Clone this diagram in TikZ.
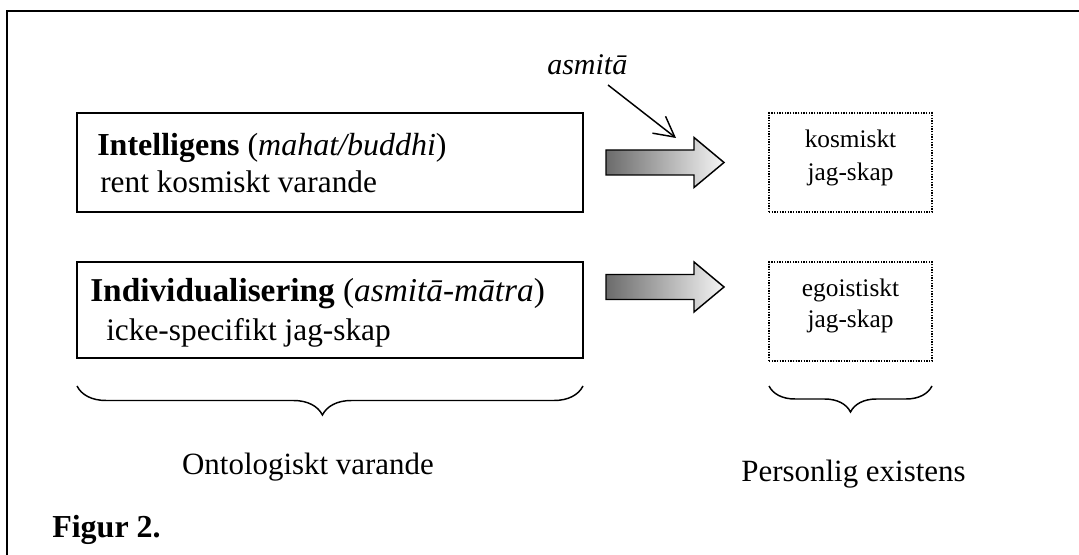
\documentclass[tikz,border=0pt]{standalone}
\usepackage{fontspec}
\setmainfont{Liberation Serif}
\usetikzlibrary{arrows.meta,decorations.pathreplacing}

\begin{document}
\begin{tikzpicture}[x=0.75pt,y=-0.75pt,
  frameline/.style={line width=1.5pt},
  solidbox/.style={draw, line width=1.4pt, inner sep=0pt, outer sep=0pt,
    minimum width=379.5pt},
  dotbox/.style={draw, line width=1pt, densely dotted, inner sep=0pt,
    outer sep=0pt, minimum width=122.25pt},
  lefttext/.style={anchor=base west, inner sep=0pt},
  bodyfont/.style={font=\fontsize{23.5}{28}\selectfont},
  smalltext/.style={anchor=base, inner sep=0pt, font=\fontsize{19}{23}\selectfont},
  captext/.style={anchor=base, inner sep=0pt, font=\fontsize{23.2}{28}\selectfont},
  blockarrow/.style={draw=black, line width=1.1pt, line join=miter,
    left color=black!58, right color=black!4},
  thinarrow/.style={line width=1.1pt, -{Straight Barb[length=15pt,width=16pt]}},
  bracestyle/.style={line width=1.1pt, decorate}
]
\useasboundingbox (0,0) rectangle (1079,555);

% open frame: left and top edges
\draw[frameline] (7,555) -- (7,11) -- (1079,11);

% ontological boxes
\node[solidbox, minimum height=74.25pt] (intel) at (330,162.5) {};
\node[solidbox, minimum height=72pt] (indiv) at (330,310) {};
\node[lefttext, font=\fontsize{24}{29}\selectfont] (intelA) at (97,156)
  {\textbf{Intelligens} (\textit{mahat/buddhi})};
\node[lefttext, bodyfont] (intelB) at (100,193) {rent kosmiskt varande};
\node[lefttext, font=\fontsize{25}{30}\selectfont] (indivA) at (90,302)
  {\textbf{Individualisering} (\textit{asmitā-mātra})};
\node[lefttext, bodyfont] (indivB) at (106,341) {icke-specifikt jag-skap};

% personal boxes
\node[dotbox, minimum height=74.25pt] (kosm) at (850.5,162.5) {};
\node[dotbox, minimum height=74.25pt] (ego) at (850.5,311.5) {};
\node[smalltext] (kosmA) at (850.5,148) {kosmiskt};
\node[smalltext] (kosmB) at (850.5,181) {jag-skap};
\node[smalltext] (egoA) at (850.5,297) {egoistiskt};
\node[smalltext] (egoB) at (850.5,328) {jag-skap};

% shaded block arrows
\shadedraw[blockarrow] (606,150) -- (694,150) -- (694,137.5) -- (724,162.5)
  -- (694,187.5) -- (694,175) -- (606,175) -- cycle;
\shadedraw[blockarrow] (606,274.5) -- (694,274.5) -- (694,262) -- (724,287)
  -- (694,312) -- (694,299.5) -- (606,299.5) -- cycle;

% asmita label and its pointer
\node[lefttext, font=\fontsize{22.5}{27}\selectfont\itshape] (asm) at (547,75) {asmitā};
\coordinate (asmtail) at (608,85);
\coordinate (asmhead) at (676,138);
\draw[thinarrow] (asmtail) -- (asmhead);

% braces and captions
\draw[bracestyle, decoration={brace, mirror, amplitude=21.75pt, aspect=0.485}]
  (77,386) -- (583,386);
\draw[bracestyle, decoration={brace, mirror, amplitude=19.5pt}]
  (769,386) -- (932,386);
\node[captext] (onto) at (308,475) {Ontologiskt varande};
\node[captext] (pers) at (853.5,482) {Personlig existens};
\node[lefttext, font=\fontsize{24}{29}\selectfont\bfseries] (fig) at (52,538) {Figur 2.};
\end{tikzpicture}
\end{document}
